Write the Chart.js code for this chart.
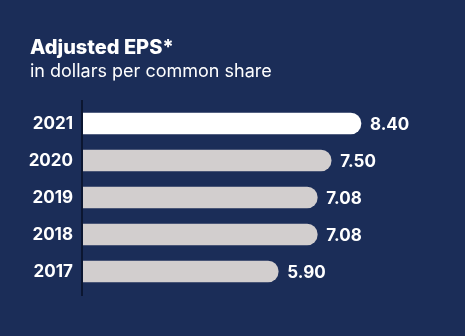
<!DOCTYPE html>
<html lang="en">
<head>
  <meta charset="UTF-8" />
  <title>Adjusted EPS</title>
  <script src="https://cdn.jsdelivr.net/npm/chart.js"></script>
  <style>
    html, body {
      margin: 0;
      padding: 0;
      background: #1b2d58;
    }
    #wrap {
      position: relative;
      width: 465px;
      height: 336px;
    }
  </style>
</head>
<body>
  <div id="wrap">
    <canvas id="epsChart" width="465" height="336"></canvas>
  </div>

  <script>
    const anos = ['2021', '2020', '2019', '2018', '2017'];
    const eps = [8.40, 7.50, 7.08, 7.08, 5.90];
    const rotulos = ['8.40', '7.50', '7.08', '7.08', '5.90'];
    const titulo = 'Adjusted EPS*';
    const subtitulo = 'in dollars per common share';

    const corFundo = '#1b2d58';
    const corDestaque = '#ffffff';
    const corBarra = '#d2cece';
    const fonte = 'Inter, "Liberation Sans", sans-serif';

    // titulo e subtitulo no canto superior esquerdo
    const cabecalho = {
      id: 'cabecalho',
      afterDraw(chart) {
        const ctx = chart.ctx;
        ctx.save();
        ctx.fillStyle = '#ffffff';
        ctx.textAlign = 'left';
        ctx.textBaseline = 'alphabetic';
        ctx.font = '800 20px ' + fonte;
        ctx.fillText(titulo, 30, 54);
        ctx.font = '18px ' + fonte;
        ctx.fillText(subtitulo, 30, 77);
        ctx.restore();
      }
    };

    // linha vertical do eixo, um pouco maior que a area das barras
    const linhaEixo = {
      id: 'linhaEixo',
      beforeDatasetsDraw(chart) {
        const { ctx, chartArea } = chart;
        ctx.save();
        ctx.strokeStyle = '#0b1631';
        ctx.lineWidth = 2;
        ctx.beginPath();
        ctx.moveTo(chartArea.left - 1, chartArea.top - 5);
        ctx.lineTo(chartArea.left - 1, chartArea.bottom + 6);
        ctx.stroke();
        ctx.restore();
      }
    };

    // valores escritos depois do fim de cada barra
    const valores = {
      id: 'valores',
      afterDatasetsDraw(chart) {
        const ctx = chart.ctx;
        const meta = chart.getDatasetMeta(0);
        ctx.save();
        ctx.fillStyle = '#ffffff';
        ctx.font = 'bold 17px ' + fonte;
        ctx.textAlign = 'left';
        ctx.textBaseline = 'middle';
        meta.data.forEach((barra, i) => {
          ctx.fillText(rotulos[i], barra.x + 9, barra.y + 1);
        });
        ctx.restore();
      }
    };

    new Chart(document.getElementById('epsChart'), {
      type: 'bar',
      data: {
        labels: anos,
        datasets: [{
          data: eps,
          backgroundColor: anos.map((a, i) => i === 0 ? corDestaque : corBarra),
          borderWidth: 0,
          borderRadius: 11,
          borderSkipped: 'start',
          barThickness: 21
        }]
      },
      options: {
        indexAxis: 'y',
        responsive: false,
        animation: false,
        layout: {
          padding: { top: 105, bottom: 46, left: 0, right: 18 }
        },
        plugins: {
          legend: { display: false },
          tooltip: { enabled: false }
        },
        scales: {
          x: {
            display: false,
            min: 0,
            max: 11
          },
          y: {
            afterFit(scale) { scale.width = 83; },
            border: { display: false },
            grid: { display: false, drawTicks: false },
            ticks: {
              color: '#ffffff',
              padding: 10,
              font: { family: fonte, size: 17, weight: 'bold' }
            }
          }
        }
      },
      plugins: [cabecalho, linhaEixo, valores]
    });
  </script>
</body>
</html>
